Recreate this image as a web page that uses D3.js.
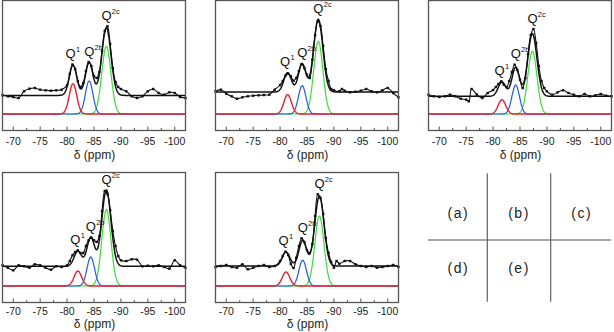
<!DOCTYPE html>
<html>
<head>
<meta charset="utf-8">
<script src="https://cdn.jsdelivr.net/npm/d3@7"></script>
<style>
  body { margin: 0; background: #fff; }
  svg { display: block; font-family: "Liberation Sans", Arial, sans-serif; }
</style>
</head>
<body>
<div id="chart"></div>
<script>
// 29Si NMR spectra, five samples (a)-(e), deconvoluted into Q1, Q2b, Q2c

const panelNames = ["a", "b", "c", "d", "e"];
const xTicks = [-70, -75, -80, -85, -90, -95, -100];

// fitted components: centre (ppm) and height (a.u.) for each panel
const q1Pos = [-81.1, -81.4, -81.65, -82.0, -81.1];
const q2bPos = [-84.1, -84.1, -84.2, -84.4, -84.2];
const q2cPos = [-87.3, -87.1, -87.3, -87.3, -87.3];
const q1Height = [30.3, 19.3, 14.3, 15, 14];
const q2bHeight = [33, 28.3, 29, 29, 25.7];
const q2cHeight = [67.6, 72.7, 62.7, 76.3, 70];
const peakWidth = [0.7, 0.7, 0.85];   // gaussian sigma for Q1, Q2b, Q2c
const fitBaseline = [18.6, 22, 17.7, 19.7, 20];

// measured spectra [ppm, intensity]
const specA = [[-68,18.7],[-69,17.7],[-70,17],[-71,16],[-72,22.7],[-73,25.3],[-74,26],[-75,24.3],[-76,23.7],[-77,23.3],[-78,23.7],[-79,24.3],[-80,29],[-80.5,40],[-81,49.5],[-81.5,45],[-82,33],[-82.5,27],[-83,31],[-83.5,43],[-84,52],[-84.5,48],[-85,38],[-85.5,36],[-86,42],[-86.5,63],[-87,83],[-87.5,87.7],[-88,70],[-88.5,46],[-89,32],[-89.5,27],[-90,25],[-91,22.7],[-92,17.7],[-93,16],[-94,17.7],[-95,22.7],[-96,25],[-97,21],[-98,19.3],[-99,21.7],[-100,21],[-101,17],[-102,16]];
const specB = [[-68,22.7],[-69,24.3],[-70,20.3],[-71,17.7],[-72,15.3],[-73,16.7],[-74,17.7],[-75,18.3],[-76,18.7],[-77,19],[-78,19.3],[-79,24.3],[-80,29],[-80.5,33],[-81,38.3],[-81.5,40.3],[-82,37.7],[-82.5,33.3],[-83,36],[-83.5,43],[-84,50],[-84.5,46],[-85,39.3],[-85.5,36],[-86,54.3],[-86.5,79],[-87,92.7],[-87.5,88],[-88,68],[-88.5,45],[-89,33],[-89.5,25],[-90,23.7],[-91,22.7],[-91.5,25],[-92,23.3],[-93,21.7],[-94,22.3],[-95,23.3],[-96,25],[-97,22.7],[-98,21.7],[-99,23.7],[-100,26],[-101,21],[-102,16.7]];
const specC = [[-68,19.3],[-69,17.7],[-70,17],[-71,17.7],[-72,19.3],[-73,17.7],[-74,15.3],[-75,14.3],[-75.5,12.7],[-76,25],[-77,19.3],[-78,16],[-79,21],[-80,24],[-80.5,27],[-81,30],[-81.5,32.7],[-82,29.3],[-82.5,27],[-83,33],[-83.5,42],[-84,49.3],[-84.5,44],[-85,34.3],[-85.5,26],[-86,36],[-86.5,60],[-87,79],[-87.5,85],[-88,71],[-88.5,48],[-89,33],[-89.5,26],[-90,22.7],[-91,19.3],[-92,21.7],[-93,23.7],[-94,21],[-95,19.3],[-96,17.7],[-97,20],[-98,17.7],[-99,18.7],[-100,20],[-101,18.3],[-102,17.7]];
const specD = [[-68,20.7],[-69,18.3],[-70,15.7],[-71,20.7],[-72,19.7],[-73,18.3],[-74,21.7],[-75,20.7],[-76,18.3],[-77,16.3],[-78,19.7],[-79,19],[-80,20.7],[-80.5,25],[-81,30.7],[-81.5,34],[-82,35.7],[-82.5,33],[-83,33],[-83.5,40],[-84,45.7],[-84.5,48.3],[-85,45.7],[-85.5,44],[-86,50],[-86.5,75],[-87,95],[-87.5,92],[-88,75.7],[-88.5,55],[-89,40],[-89.5,30],[-90,25.7],[-91,25],[-92,26.7],[-93,26.3],[-94,19.7],[-95,20.3],[-96,19.7],[-97,20.7],[-98,19],[-99,17.3],[-100,25.7],[-101,20.7],[-102,18.3]];
const specE = [[-68,19],[-69,20],[-70,21],[-71,19],[-72,18.3],[-73,21.7],[-74,16.7],[-75,18.3],[-76,20],[-77,21],[-78,19],[-79,20],[-80,25],[-80.5,30],[-81,34.3],[-81.5,31],[-82,22],[-82.5,18],[-83,28.3],[-83.5,40],[-84,47.7],[-84.5,44],[-85,36],[-85.5,33],[-86,42],[-86.5,70],[-87,91.7],[-87.5,88],[-88,72],[-88.5,48],[-89,33],[-89.5,24],[-90,18.3],[-90.5,25],[-91,22.3],[-92,25],[-93,25],[-94,21.7],[-95,20],[-96,19],[-97,20],[-98,18.3],[-99,19],[-100,20],[-101,21],[-102,19]];
const spectra = [specA, specB, specC, specD, specE];

const gridLabels = ["(a)", "(b)", "(c)", "(d)", "(e)"];

const W = 614, H = 332;
const pw = 183, ph = 130;
const panelLeft = [2.5, 215.5, 428.5, 2.5, 215.5];
const panelTop = [0.5, 0.5, 0.5, 172.5, 172.5];
// second row has its axis text packed a little tighter
const tickOffset = [14.5, 14.5, 14.5, 12.8, 12.8];
const titleOffset = [28, 28, 28, 25.5, 25.5];
const compColors = ["#ec2030", "#2458ec", "#3ade3a"];

const svg = d3.select("#chart").append("svg")
    .attr("width", W)
    .attr("height", H);

const x = d3.scaleLinear().domain([-68, -102]).range([0, pw]);
const y = d3.scaleLinear().domain([-16.5, 113.5]).range([ph, 0]);

function gauss(p, c, h, s) {
    return h * Math.exp(-((p - c) * (p - c)) / (2 * s * s));
}

const fine = d3.range(-68, -102.05, -0.1);

panelNames.forEach((name, i) => {
    let g = svg.append("g")
        .attr("transform", `translate(${panelLeft[i]},${panelTop[i]})`);

    let comps = [
        {c: q1Pos[i], h: q1Height[i], s: peakWidth[0], color: compColors[0]},
        {c: q2bPos[i], h: q2bHeight[i], s: peakWidth[1], color: compColors[1]},
        {c: q2cPos[i], h: q2cHeight[i], s: peakWidth[2], color: compColors[2]}
    ];

    let line = d3.line().x(d => x(d[0])).y(d => y(d[1]));

    // component curves, red drawn last so its baseline is on top
    [2, 1, 0].forEach(k => {
        let cp = comps[k];
        g.append("path")
            .datum(fine.map(p => [p, gauss(p, cp.c, cp.h, cp.s)]))
            .attr("d", line)
            .attr("fill", "none")
            .attr("stroke", cp.color)
            .attr("stroke-width", k === 0 ? 1.4 : 1.2);
    });

    // fitted envelope
    let fit = fine.map(p => [p, fitBaseline[i] + d3.sum(comps, cp => gauss(p, cp.c, cp.h, cp.s))]);
    g.append("path")
        .datum(fit)
        .attr("d", line)
        .attr("fill", "none")
        .attr("stroke", "#111")
        .attr("stroke-width", 1.5);

    // experimental points
    let spec = spectra[i];
    g.append("path")
        .datum(spec)
        .attr("d", d3.line().x(d => x(d[0])).y(d => y(d[1])).curve(d3.curveCatmullRom))
        .attr("fill", "none")
        .attr("stroke", "#111")
        .attr("stroke-width", 1.1);
    g.selectAll("rect.pt")
        .data(spec)
        .enter()
        .append("rect")
        .attr("class", "pt")
        .attr("x", d => x(d[0]) - 1.2)
        .attr("y", d => y(d[1]) - 1.2)
        .attr("width", 2.4)
        .attr("height", 2.4)
        .attr("fill", "#111");

    // peak labels above the envelope
    let labels = [["Q", "1"], ["Q", "2b"], ["Q", "2c"]];
    let nudge = [-2.5, 0, 0];
    comps.forEach((cp, k) => {
        let top = d3.max(spec.filter(d => Math.abs(d[0] - cp.c) < 0.6), d => d[1]);
        top = Math.max(top, d3.max(fit.filter(d => Math.abs(d[0] - cp.c) < 0.3), d => d[1]));
        let t = g.append("text")
            .attr("x", x(cp.c) - 5 + nudge[k])
            .attr("y", y(top) - 6.5)
            .attr("font-size", 13)
            .attr("fill", "#111");
        t.append("tspan").text(labels[k][0]);
        t.append("tspan")
            .attr("dy", -6)
            .attr("dx", 0.3)
            .attr("font-size", 7.5)
            .text(labels[k][1]);
    });

    // frame
    g.append("rect")
        .attr("width", pw)
        .attr("height", ph)
        .attr("fill", "none")
        .attr("stroke", "#555")
        .attr("stroke-width", 1.3);

    // bottom axis, ticks pointing inward
    let axisG = g.append("g").attr("transform", `translate(0,${ph})`);
    axisG.selectAll("line.minor")
        .data(d3.range(-70, -101, -2.5))
        .enter()
        .append("line")
        .attr("x1", d => x(d)).attr("x2", d => x(d))
        .attr("y1", 0).attr("y2", d => d % 5 === 0 ? -4 : -2.5)
        .attr("stroke", "#555")
        .attr("stroke-width", 1);
    axisG.selectAll("text")
        .data(xTicks)
        .enter()
        .append("text")
        .attr("x", d => x(d))
        .attr("y", tickOffset[i])
        .attr("text-anchor", "middle")
        .attr("font-size", 10.5)
        .attr("fill", "#222")
        .text(d => d);
    axisG.append("text")
        .attr("x", pw / 2 + 0.5)
        .attr("y", titleOffset[i])
        .attr("text-anchor", "middle")
        .attr("font-size", 12)
        .attr("fill", "#222")
        .text("δ (ppm)");
});

// key to panel layout
let key = svg.append("g");
let vx = [487.3, 550.7];
vx.forEach(v => {
    key.append("line")
        .attr("x1", v).attr("x2", v)
        .attr("y1", 173.3).attr("y2", 301.7)
        .attr("stroke", "#555").attr("stroke-width", 1.1);
});
key.append("line")
    .attr("x1", 427.7).attr("x2", 611)
    .attr("y1", 240).attr("y2", 240)
    .attr("stroke", "#555").attr("stroke-width", 1.1);
let keyX = [458.3, 519, 581.7, 458.3, 519];
let keyY = [213.3, 213.3, 213.3, 268.3, 268.3];
key.selectAll("text")
    .data(gridLabels)
    .enter()
    .append("text")
    .attr("x", (d, i) => keyX[i])
    .attr("y", (d, i) => keyY[i] + 5)
    .attr("text-anchor", "middle")
    .attr("font-size", 14)
    .attr("letter-spacing", 1.5)
    .attr("fill", "#222")
    .text(d => d);
</script>
</body>
</html>
